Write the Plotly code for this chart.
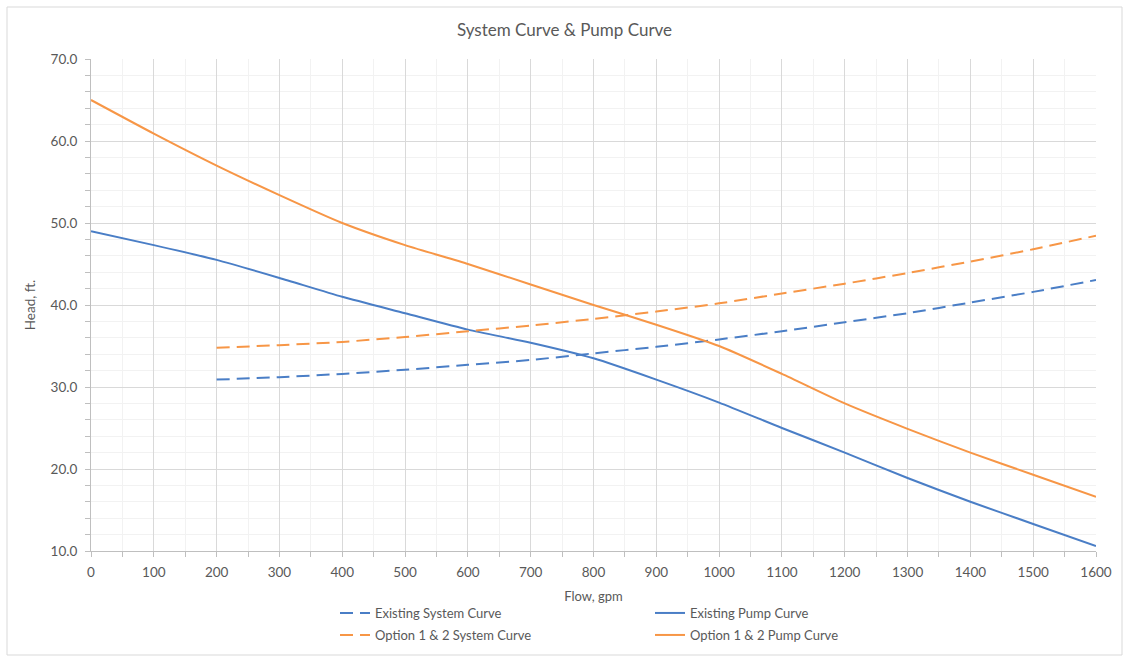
import plotly.graph_objects as go

flow_pump = [0, 100, 200, 300, 400, 500, 600, 700, 800, 900, 1000, 1100, 1200, 1300, 1400, 1500, 1600]
existing_pump = [49.0, 47.3, 45.5, 43.3, 41.0, 39.0, 37.0, 35.4, 33.5, 30.9, 28.1, 25.0, 22.0, 18.9, 16.0, 13.3, 10.6]
option_pump = [65.0, 60.9, 57.0, 53.4, 50.0, 47.3, 45.0, 42.5, 40.0, 37.6, 35.0, 31.6, 28.0, 24.9, 22.0, 19.3, 16.6]

flow_sys = [200, 300, 400, 500, 600, 700, 800, 900, 1000, 1100, 1200, 1300, 1400, 1500, 1600]
existing_sys = [30.9, 31.2, 31.6, 32.1, 32.7, 33.3, 34.1, 34.9, 35.8, 36.8, 37.9, 39.0, 40.3, 41.6, 43.05]
option_sys = [34.8, 35.1, 35.5, 36.1, 36.8, 37.5, 38.3, 39.2, 40.2, 41.4, 42.6, 43.9, 45.3, 46.8, 48.45]

BLUE = "#4A7EC6"
ORANGE = "#F79646"
FONT = "Lato, 'Open Sans', sans-serif"
TXT = "#595959"

fig = go.Figure()
fig.add_trace(go.Scatter(x=flow_sys, y=existing_sys, mode="lines", name="Existing System Curve",
                         line=dict(color=BLUE, width=2, dash="13px,7px", shape="spline", smoothing=0.6),
                         legend="legend"))
fig.add_trace(go.Scatter(x=flow_pump, y=existing_pump, mode="lines", name="Existing Pump Curve",
                         line=dict(color=BLUE, width=2, shape="spline", smoothing=0.6),
                         legend="legend"))
fig.add_trace(go.Scatter(x=flow_sys, y=option_sys, mode="lines", name="Option 1 & 2 System Curve",
                         line=dict(color=ORANGE, width=2, dash="13px,7px", shape="spline", smoothing=0.6),
                         legend="legend2"))
fig.add_trace(go.Scatter(x=flow_pump, y=option_pump, mode="lines", name="Option 1 & 2 Pump Curve",
                         line=dict(color=ORANGE, width=2, shape="spline", smoothing=0.6),
                         legend="legend2"))

# plot area in pixels: left 91, right 1096, top 59, bottom 551
L, R, T, B = 91, 1096, 59, 551
W, H = 1129, 658
pw, ph = R - L, B - T

def px_x(p):
    return (p - L) / pw

def px_y(p):
    return (B - p) / ph

legend_common = dict(orientation="h", xanchor="left", yanchor="top", traceorder="normal",
                     font=dict(family=FONT, size=13, color=TXT), entrywidth=270,
                     entrywidthmode="pixels", bgcolor="rgba(0,0,0,0)", itemwidth=30)

fig.update_layout(
    width=W, height=H,
    margin=dict(l=L, r=W - R, t=T, b=H - B, autoexpand=False),
    paper_bgcolor="white", plot_bgcolor="white",
    title=dict(text="System Curve & Pump Curve", x=0.5, xanchor="center", y=1 - 30 / H, yanchor="middle",
               font=dict(family=FONT, size=17, color=TXT)),
    showlegend=True,
    legend=dict(x=px_x(335), y=px_y(598), **legend_common),
    legend2=dict(x=px_x(335), y=px_y(620), **legend_common),
    xaxis=dict(range=[0, 1600], dtick=100, tick0=0, showgrid=True, gridcolor="#D9D9D9", gridwidth=1,
               ticks="outside", ticklen=5, tickcolor="#BFBFBF", ticklabelstandoff=4,
               showline=True, linecolor="#BFBFBF", linewidth=1, zeroline=False,
               minor=dict(dtick=50, showgrid=True, gridcolor="#F2F2F2", ticks="outside", ticklen=5,
                          tickcolor="#BFBFBF"),
               tickfont=dict(family=FONT, size=13.5, color=TXT),
               title=dict(text="Flow, gpm", font=dict(family=FONT, size=13, color=TXT), standoff=12)),
    yaxis=dict(range=[10, 70], dtick=10, tick0=10, tickformat=".1f", showgrid=True, gridcolor="#D9D9D9",
               gridwidth=1, ticks="outside", ticklen=5, tickcolor="#BFBFBF", ticklabelstandoff=5,
               showline=True, linecolor="#BFBFBF", linewidth=1, zeroline=False,
               minor=dict(dtick=2, showgrid=True, gridcolor="#F2F2F2", ticks="outside", ticklen=5,
                          tickcolor="#BFBFBF"),
               tickfont=dict(family=FONT, size=13.5, color=TXT),
               title=dict(text="Head, ft.", font=dict(family=FONT, size=13.5, color=TXT), standoff=11)),
    shapes=[dict(type="rect", xref="paper", yref="paper",
                 x0=px_x(7), x1=px_x(1122), y0=px_y(655), y1=px_y(7),
                 line=dict(color="#D9D9D9", width=1), fillcolor="rgba(0,0,0,0)", layer="below")],
)

fig.write_html("out.html", config={"displayModeBar": False},
               post_script="document.body.style.margin='0';document.body.style.padding='0';")
